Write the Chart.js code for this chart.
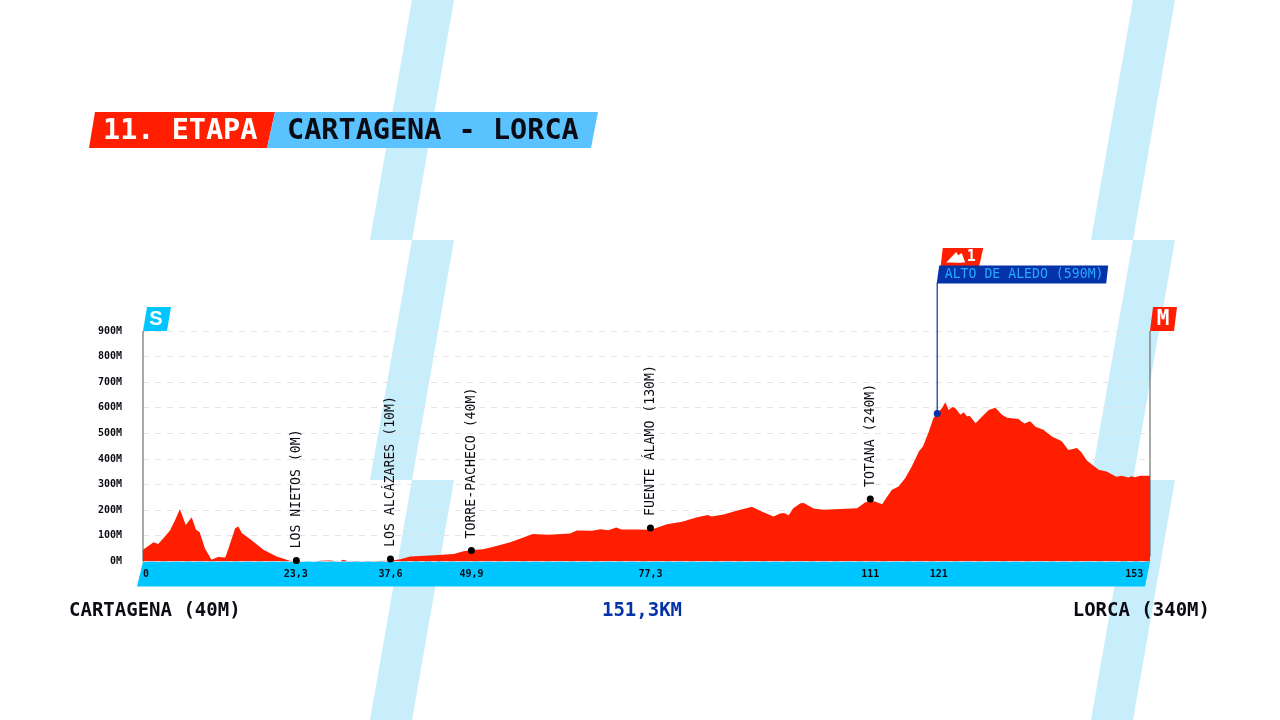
<!DOCTYPE html>
<html>
<head>
<meta charset="utf-8">
<title>11. Etapa</title>
<script src="https://cdn.jsdelivr.net/npm/chart.js@4/dist/chart.umd.min.js"></script>
<style>
    html, body { margin: 0; padding: 0; background: #fff; overflow: hidden; }
    #stage { display: block; width: 1280px; height: 720px; }
</style>
</head>
<body>
<canvas id="stage" width="1280" height="720"></canvas>
<script>
// profile
var profileKm = [0, 0.8, 1.6, 2.3, 3.1, 4.1, 4.9, 5.6, 6.5, 7.4, 8.05, 8.6, 9.4, 10.4, 11.4, 12.5, 13, 14, 14.5, 15, 16.3, 18.3, 20.3, 22.3, 23.3,
    26.1, 26.9, 28.4, 29.9, 30.4, 31.2, 33.5, 37.5, 39.1, 40.6, 43.6, 47.2, 48.7, 49.7,
    51.7, 53.7, 55.8, 57.8, 59.2, 61.6, 64.9, 65.9, 68.2, 69.5, 70.7, 71.9, 72.7, 75, 77.2,
    79.6, 81.9, 84.2, 85.8, 86.4, 88.2, 90.2, 92.5, 94, 95.8, 96.8, 97.4, 98.1, 98.8, 99.9, 100.4, 101.9, 103.4, 108.5, 109.7, 110.5,
    111.2, 112.3, 113, 113.8, 114.8, 115.8, 116.8, 117.9, 118.5, 119.4, 120.1, 120.7, 121.4, 121.9, 122.4, 123, 123.4, 124.2, 124.7, 125.2, 125.6,
    126.5, 127.5, 128.5, 129.5, 130.5, 131.3, 133, 133.9, 134.8, 135.6, 136.8, 138.1, 139.6, 140.6, 141.9, 142.6, 143.4, 145.2, 146.4, 147.9, 148.7, 149.7, 150.2, 150.7, 151.5, 153];
var profileElev = [46, 61, 75, 68, 91, 121, 163, 204, 143, 173, 124, 115, 52, 7, 18, 16, 52, 130, 137, 111, 87, 46, 20, 3, 0,
    0, 3, 4, 0, 7, 1, 1, 3, 9, 20, 23, 29, 40, 44,
    48, 61, 75, 94, 107, 104, 109, 121, 120, 126, 122, 133, 125, 125, 124,
    145, 155, 173, 182, 176, 184, 198, 214, 195, 176, 187, 189, 181, 208, 227, 228, 207, 202, 208, 230, 238,
    234, 224, 251, 280, 293, 325, 371, 430, 449, 508, 560, 579, 599, 622, 592, 603, 599, 573, 583, 566, 569,
    540, 566, 592, 600, 573, 561, 556, 539, 548, 526, 514, 488, 470, 435, 443, 426, 394, 358, 351, 331, 335, 328, 333, 329, 335, 335];

var placeNames = ['LOS NIETOS (0M)', 'LOS ALCÁZARES (10M)', 'TORRE-PACHECO (40M)', 'FUENTE ÁLAMO (130M)', 'TOTANA (240M)'];
var placeKm = [23.3, 37.6, 49.9, 77.1, 110.5];
var placeElev = [4, 10, 43, 131, 244];

var climbName = 'ALTO DE ALEDO (590M)';
var climbKm = [120.67];
var climbElev = [578];

var tickKm = [0.45, 23.2, 37.6, 49.9, 77.1, 110.5, 120.9, 150.6];
var tickLabels = ['0', '23,3', '37,6', '49,9', '77,3', '111', '121', '153'];

var RED = '#ff1e00', CYAN = '#00c6ff', NAVY = '#0433a8', SKY = '#5ac3ff', PALE = '#c8eefc', INK = '#0b0b14';
var MONO = '"DejaVu Sans Mono", monospace';

function poly(ctx, pts, color) {
    ctx.fillStyle = color;
    ctx.beginPath();
    ctx.moveTo(pts[0], pts[1]);
    for (var i = 2; i < pts.length; i += 2) ctx.lineTo(pts[i], pts[i + 1]);
    ctx.closePath();
    ctx.fill();
}

function label(ctx, text, x, y, font, color, align) {
    ctx.font = font;
    ctx.fillStyle = color;
    ctx.textAlign = align || 'left';
    ctx.textBaseline = 'middle';
    ctx.fillText(text, x, y);
}

// background stripes, header and the band under the axis
var backdrop = {
    id: 'backdrop',
    beforeDraw: function (chart) {
        var ctx = chart.ctx, a = chart.chartArea;
        ctx.save();
        ctx.fillStyle = '#fff';
        ctx.fillRect(0, 0, 1280, 720);
        [0, 721].forEach(function (dx) {
            [0, 240, 480].forEach(function (y) {
                poly(ctx, [412 + dx, y, 454 + dx, y, 412 + dx, y + 240, 370 + dx, y + 240], PALE);
            });
        });
        poly(ctx, [a.left, a.bottom, a.right, a.bottom, a.right - 5, a.bottom + 25, a.left - 6, a.bottom + 25], CYAN);

        poly(ctx, [95, 112, 275, 112, 267, 148, 89, 148], RED);
        poly(ctx, [275, 112, 598, 112, 591, 148, 267, 148], SKY);
        label(ctx, '11. ETAPA', 103, 132, 'bold 28.5px ' + MONO, '#fff');
        label(ctx, 'CARTAGENA - LORCA', 287, 132, 'bold 28.5px ' + MONO, INK);

        label(ctx, 'CARTAGENA (40M)', 69, 611, 'bold 19px ' + MONO, INK);
        label(ctx, '151,3KM', 642, 611, 'bold 19px ' + MONO, NAVY, 'center');
        label(ctx, 'LORCA (340M)', 1210, 611, 'bold 19px ' + MONO, INK, 'right');
        ctx.restore();
    },
    afterDatasetsDraw: function (chart) {
        var ctx = chart.ctx, a = chart.chartArea, xs = chart.scales.x, ys = chart.scales.y;
        ctx.save();
        // start and finish posts
        ctx.strokeStyle = '#555';
        ctx.lineWidth = 1;
        ctx.beginPath();
        ctx.moveTo(a.left, a.top);
        ctx.lineTo(a.left, a.bottom);
        ctx.moveTo(a.right, a.top);
        ctx.lineTo(a.right, a.bottom - 5);
        ctx.stroke();

        poly(ctx, [a.left + 4, a.top - 24, a.left + 28, a.top - 24, a.left + 24, a.top, a.left, a.top], CYAN);
        label(ctx, 'S', a.left + 13, a.top - 11.5, 'bold 20px "Liberation Sans", sans-serif', '#fff', 'center');
        poly(ctx, [a.right + 3, a.top - 24, a.right + 27, a.top - 24, a.right + 24, a.top, a.right, a.top], RED);
        label(ctx, 'M', a.right + 13, a.top - 11.5, 'bold 21px ' + MONO, '#fff', 'center');

        // climb marker
        var cx = xs.getPixelForValue(climbKm[0]), cy = ys.getPixelForValue(climbElev[0]);
        ctx.strokeStyle = NAVY;
        ctx.lineWidth = 1.2;
        ctx.beginPath();
        ctx.moveTo(cx, cy);
        ctx.lineTo(cx, 283);
        ctx.stroke();
        poly(ctx, [cx + 5.5, 248, cx + 46, 248, cx + 42, 266, cx + 3.5, 266], RED);
        poly(ctx, [cx + 9, 262.5, cx + 19, 252, cx + 25, 262.5], '#fff');
        poly(ctx, [cx + 17, 262.5, cx + 20, 256, cx + 24.5, 253, cx + 28, 262.5], '#fff');
        label(ctx, '1', cx + 34, 257.5, 'bold 15px ' + MONO, '#fff', 'center');
        poly(ctx, [cx + 2, 265.5, cx + 171, 265.5, cx + 169, 283.5, cx - 0.5, 283.5], NAVY);
        label(ctx, climbName, cx + 7.5, 275, '13.2px ' + MONO, '#27a9ff');

        // town names, running up from their dots
        placeNames.forEach(function (name, i) {
            ctx.save();
            ctx.translate(xs.getPixelForValue(placeKm[i]), ys.getPixelForValue(placeElev[i]) - 12);
            ctx.rotate(-Math.PI / 2);
            label(ctx, name, 0, 0, '13.2px ' + MONO, INK);
            ctx.restore();
        });
        ctx.restore();
    }
};

new Chart(document.getElementById('stage'), {
    type: 'line',
    data: {
        datasets: [{
            data: profileKm.map(function (k, i) { return { x: k, y: profileElev[i] }; }),
            backgroundColor: RED,
            borderWidth: 0,
            pointRadius: 0,
            tension: 0,
            fill: 'origin',
            order: 3
        }, {
            data: placeKm.map(function (k, i) { return { x: k, y: placeElev[i] }; }),
            showLine: false,
            pointRadius: 3.5,
            pointBackgroundColor: '#000',
            pointBorderWidth: 0,
            clip: false,
            order: 1
        }, {
            data: climbKm.map(function (k, i) { return { x: k, y: climbElev[i] }; }),
            showLine: false,
            pointRadius: 3.5,
            pointBackgroundColor: NAVY,
            pointBorderWidth: 0,
            order: 0
        }]
    },
    options: {
        responsive: false,
        animation: false,
        devicePixelRatio: 1,
        layout: { padding: { top: 331, right: 130, bottom: 132.5, left: 0 } },
        plugins: { legend: { display: false }, tooltip: { enabled: false } },
        scales: {
            x: {
                type: 'linear',
                min: 0,
                max: 153,
                afterFit: function (s) { s.height = 26; },
                afterBuildTicks: function (s) { s.ticks = tickKm.map(function (v) { return { value: v }; }); },
                grid: { display: false, drawTicks: false, tickLength: 0 },
                border: { display: false },
                ticks: {
                    autoSkip: false,
                    maxRotation: 0,
                    padding: 7,
                    color: INK,
                    font: { family: MONO, size: 10, weight: 'bold' },
                    callback: function (v, i) { return tickLabels[i]; }
                }
            },
            y: {
                min: 0,
                max: 900,
                afterFit: function (s) { s.width = 143; },
                grid: { color: '#e4e4e4', lineWidth: 1, drawTicks: false, tickLength: 0 },
                border: { display: false, dash: [6, 6] },
                ticks: {
                    stepSize: 100,
                    padding: 21,
                    color: INK,
                    font: { family: MONO, size: 10, weight: 'bold' },
                    callback: function (v) { return v + 'M'; }
                }
            }
        }
    },
    plugins: [backdrop]
});
</script>
</body>
</html>
